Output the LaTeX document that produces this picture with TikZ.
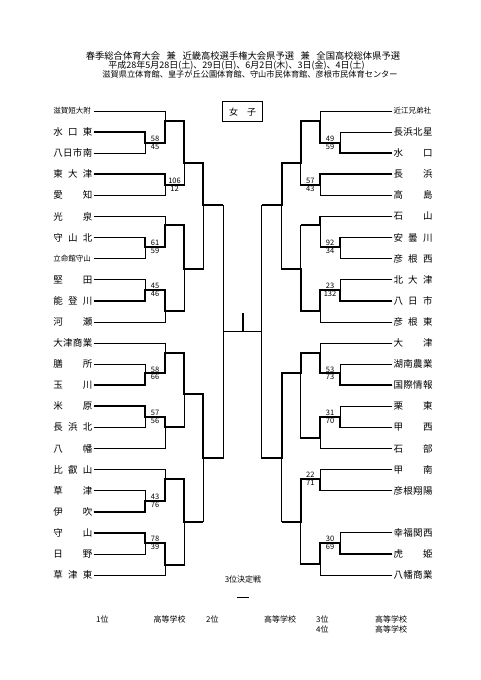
\documentclass[tikz,border=0pt]{standalone}
\usepackage{fontspec}
\setmainfont{Noto Sans CJK JP}

\newcommand{\tmname}[1]{\makebox[39pt][s]{#1}}
\newcommand{\tmsmall}[1]{\makebox[39pt][l]{\fontsize{7.5}{8}\selectfont #1}}

\begin{document}
\begin{tikzpicture}[x=1pt,y=-1pt,node distance=21.09pt,
  team/.style={inner sep=1pt,font=\fontsize{9.5}{10}\selectfont},
  score/.style={inner sep=0.8pt,font=\fontsize{7.5}{8}\selectfont},
  note/.style={inner sep=0pt,font=\fontsize{8}{9}\selectfont},
  thinline/.style={line width=0.7pt},
  winline/.style={line width=1.7pt}]

  \useasboundingbox (0,0) rectangle (481,680);

  % heading
  \node[inner sep=0pt,font=\fontsize{9.3}{10}\selectfont] (title) at (243,55.7)
    {春季総合体育大会\hspace{0.7em}兼\hspace{0.7em}近畿高校選手権大会県予選\hspace{0.7em}兼\hspace{0.7em}全国高校総体県予選};
  \node[inner sep=0pt,font=\fontsize{9}{10}\selectfont] (dates) at (236.5,65.7)
    {平成28年5月28日(土)、29日(日)、6月2日(木)、3日(金)、4日(土)};
  \node[inner sep=0pt,font=\fontsize{8.2}{9}\selectfont] (halls) at (250,74.7)
    {滋賀県立体育館、皇子が丘公園体育館、守山市民体育館、彦根市民体育センター};
  \node[draw,thinline,minimum width=39.6pt,minimum height=20pt,font=\fontsize{9}{10}\selectfont]
    (girls) at (242.5,111.7) {女\hspace{1em}子};

  % left teams
  \node[team] (L1)  at (72.8,111)    {\tmsmall{滋賀短大附}};
  \node[team] (L2)  [below of=L1]  {\tmname{水\hfill 口\hfill 東}};
  \node[team] (L3)  [below of=L2]  {\tmname{八\hfill 日\hfill 市\hfill 南}};
  \node[team] (L4)  [below of=L3]  {\tmname{東\hfill 大\hfill 津}};
  \node[team] (L5)  [below of=L4]  {\tmname{愛\hfill 知}};
  \node[team] (L6)  [below of=L5]  {\tmname{光\hfill 泉}};
  \node[team] (L7)  [below of=L6]  {\tmname{守\hfill 山\hfill 北}};
  \node[team] (L8)  [below of=L7]  {\tmsmall{立命館守山}};
  \node[team] (L9)  [below of=L8]  {\tmname{堅\hfill 田}};
  \node[team] (L10) [below of=L9]  {\tmname{能\hfill 登\hfill 川}};
  \node[team] (L11) [below of=L10] {\tmname{河\hfill 瀬}};
  \node[team] (L12) [below of=L11] {\tmname{大\hfill 津\hfill 商\hfill 業}};
  \node[team] (L13) [below of=L12] {\tmname{膳\hfill 所}};
  \node[team] (L14) [below of=L13] {\tmname{玉\hfill 川}};
  \node[team] (L15) [below of=L14] {\tmname{米\hfill 原}};
  \node[team] (L16) [below of=L15] {\tmname{長\hfill 浜\hfill 北}};
  \node[team] (L17) [below of=L16] {\tmname{八\hfill 幡}};
  \node[team] (L18) [below of=L17] {\tmname{比\hfill 叡\hfill 山}};
  \node[team] (L19) [below of=L18] {\tmname{草\hfill 津}};
  \node[team] (L20) [below of=L19] {\tmname{伊\hfill 吹}};
  \node[team] (L21) [below of=L20] {\tmname{守\hfill 山}};
  \node[team] (L22) [below of=L21] {\tmname{日\hfill 野}};
  \node[team] (L23) [below of=L22] {\tmname{草\hfill 津\hfill 東}};

  % right teams
  \node[team] (R1)  at (413,111)     {\tmsmall{近江兄弟社}};
  \node[team] (R2)  [below of=R1]  {\tmname{長\hfill 浜\hfill 北\hfill 星}};
  \node[team] (R3)  [below of=R2]  {\tmname{水\hfill 口}};
  \node[team] (R4)  [below of=R3]  {\tmname{長\hfill 浜}};
  \node[team] (R5)  [below of=R4]  {\tmname{高\hfill 島}};
  \node[team] (R6)  [below of=R5]  {\tmname{石\hfill 山}};
  \node[team] (R7)  [below of=R6]  {\tmname{安\hfill 曇\hfill 川}};
  \node[team] (R8)  [below of=R7]  {\tmname{彦\hfill 根\hfill 西}};
  \node[team] (R9)  [below of=R8]  {\tmname{北\hfill 大\hfill 津}};
  \node[team] (R10) [below of=R9]  {\tmname{八\hfill 日\hfill 市}};
  \node[team] (R11) [below of=R10] {\tmname{彦\hfill 根\hfill 東}};
  \node[team] (R12) [below of=R11] {\tmname{大\hfill 津}};
  \node[team] (R13) [below of=R12] {\tmname{湖\hfill 南\hfill 農\hfill 業}};
  \node[team] (R14) [below of=R13] {\tmname{国\hfill 際\hfill 情\hfill 報}};
  \node[team] (R15) [below of=R14] {\tmname{栗\hfill 東}};
  \node[team] (R16) [below of=R15] {\tmname{甲\hfill 西}};
  \node[team] (R17) [below of=R16] {\tmname{石\hfill 部}};
  \node[team] (R18) [below of=R17] {\tmname{甲\hfill 南}};
  \node[team] (R19) [below of=R18] {\tmname{彦\hfill 根\hfill 翔\hfill 陽}};
  \node[team] (R21) [below of=R19,node distance=42.18pt] {\tmname{幸\hfill 福\hfill 関\hfill 西}};
  \node[team] (R22) [below of=R21] {\tmname{虎\hfill 姫}};
  \node[team] (R23) [below of=R22] {\tmname{八\hfill 幡\hfill 商\hfill 業}};

  % left junctions
  \coordinate (a1) at (145,142.7);
  \coordinate (b1) at (165,121);
  \coordinate (b2) at (165,185);
  \coordinate (c1) at (184,163.3);
  \coordinate (a2) at (145,246.7);
  \coordinate (b3) at (165,225);
  \coordinate (a3) at (145,290);
  \coordinate (b4) at (165,311);
  \coordinate (c2) at (184,269.3);
  \coordinate (d1) at (203.3,205);
  \coordinate (a4) at (145,373.3);
  \coordinate (b5) at (165,352.7);
  \coordinate (a5) at (145,416.7);
  \coordinate (b6) at (165,427.3);
  \coordinate (c3) at (184,394);
  \coordinate (a6) at (145,500.7);
  \coordinate (b7) at (165,479.3);
  \coordinate (a7) at (145,542.7);
  \coordinate (b8) at (165,565);
  \coordinate (c4) at (184,521.7);
  \coordinate (d2) at (203.3,458.3);
  \coordinate (f1) at (223.3,331.7);

  % right junctions
  \coordinate (ra1) at (340,142.7);
  \coordinate (rb1) at (320,121);
  \coordinate (rb2) at (320,185);
  \coordinate (rc1) at (300.7,163.3);
  \coordinate (ra2) at (340,246.7);
  \coordinate (rb3) at (320,225);
  \coordinate (ra3) at (340,290);
  \coordinate (rb4) at (320,311);
  \coordinate (rc2) at (300.7,269.3);
  \coordinate (rd1) at (281.7,205);
  \coordinate (ra4) at (340,373.3);
  \coordinate (rb5) at (320,352.7);
  \coordinate (ra5) at (340,416.7);
  \coordinate (rb6) at (320,438.3);
  \coordinate (rc3) at (300.7,373.3);
  \coordinate (rb7) at (320,479);
  \coordinate (ra6) at (340,542.7);
  \coordinate (rb8) at (320,564.3);
  \coordinate (rc4) at (300.7,521.7);
  \coordinate (rd2) at (281.7,458.3);
  \coordinate (rf1) at (261.7,331.7);

  \coordinate (mid) at (242.7,331.7);
  \coordinate (top) at (242.7,312.7);

  % left bracket
  \draw[thinline]
    (L1.east) -| (b1)
    (L2.east) -| (a1)
    (L3.east) -| (a1)
    (a1) -| node[score,pos=0.25,above] {58} node[score,pos=0.25,below] {45} (b1)
    (L4.east) -| (b2)
    (L5.east) -| (b2)
    (b1) -| (c1)
    (b2) -| node[score,pos=0.25,above] {106} node[score,pos=0.25,below] {12} (c1)
    (L6.east) -| (b3)
    (L7.east) -| (a2)
    (L8.east) -| (a2)
    (a2) -| node[score,pos=0.25,above] {61} node[score,pos=0.25,below] {59} (b3)
    (L9.east) -| (a3)
    (L10.east) -| (a3)
    (a3) -| node[score,pos=0.25,above] {45} node[score,pos=0.25,below] {46} (b4)
    (L11.east) -| (b4)
    (b3) -| (c2)
    (b4) -| (c2)
    (c1) -| (d1)
    (c2) -| (d1)
    (L12.east) -| (b5)
    (L13.east) -| (a4)
    (L14.east) -| (a4)
    (a4) -| node[score,pos=0.25,above] {58} node[score,pos=0.25,below] {66} (b5)
    (L15.east) -| (a5)
    (L16.east) -| (a5)
    (a5) -| node[score,pos=0.25,above] {57} node[score,pos=0.25,below] {56} (b6)
    (L17.east) -| (b6)
    (b5) -| (c3)
    (b6) -| (c3)
    (L18.east) -| (b7)
    (L19.east) -| (a6)
    (L20.east) -| (a6)
    (a6) -| node[score,pos=0.25,above] {43} node[score,pos=0.25,below] {76} (b7)
    (L21.east) -| (a7)
    (L22.east) -| (a7)
    (a7) -| node[score,pos=0.25,above] {78} node[score,pos=0.25,below] {39} (b8)
    (L23.east) -| (b8)
    (b7) -| (c4)
    (b8) -| (c4)
    (c3) -| (d2)
    (c4) -| (d2)
    (d1) -| (f1)
    (d2) -| (f1);

  % right bracket
  \draw[thinline]
    (R1.west) -| (rb1)
    (R2.west) -| (ra1)
    (R3.west) -| (ra1)
    (ra1) -| node[score,pos=0.25,above] {49} node[score,pos=0.25,below] {59} (rb1)
    (R4.west) -| (rb2)
    (R5.west) -| (rb2)
    (rb1) -| (rc1)
    (rb2) -| node[score,pos=0.25,above] {57} node[score,pos=0.25,below] {43} (rc1)
    (R6.west) -| (rb3)
    (R7.west) -| (ra2)
    (R8.west) -| (ra2)
    (ra2) -| node[score,pos=0.25,above] {92} node[score,pos=0.25,below] {34} (rb3)
    (R9.west) -| (ra3)
    (R10.west) -| (ra3)
    (ra3) -| node[score,pos=0.25,above] {23} node[score,pos=0.25,below] {132} (rb4)
    (R11.west) -| (rb4)
    (rb3) -| (rc2)
    (rb4) -| (rc2)
    (rc1) -| (rd1)
    (rc2) -| (rd1)
    (R12.west) -| (rb5)
    (R13.west) -| (ra4)
    (R14.west) -| (ra4)
    (ra4) -| node[score,pos=0.25,above] {53} node[score,pos=0.25,below] {73} (rb5)
    (R15.west) -| (ra5)
    (R16.west) -| (ra5)
    (ra5) -| node[score,pos=0.25,above] {31} node[score,pos=0.25,below] {70} (rb6)
    (R17.west) -| (rb6)
    (rb5) -| (rc3)
    (rb6) -| (rc3)
    (R18.west) -| (rb7)
    (R19.west) -| (rb7)
    (rb7) -| node[score,pos=0.25,above] {22} node[score,pos=0.25,below] {71} (rc4)
    (R21.west) -| (ra6)
    (R22.west) -| (ra6)
    (ra6) -| node[score,pos=0.25,above] {30} node[score,pos=0.25,below] {69} (rb8)
    (R23.west) -| (rb8)
    (rb8) -| (rc4)
    (rc3) -| (rd2)
    (rc4) -| (rd2)
    (rd1) -| (rf1)
    (rd2) -| (rf1);

  % final
  \draw[thinline] (f1) -- (rf1);
  \draw[winline] (mid) -- (top);

  % winners, left
  \draw[winline] (L2.east) -| (a1) -| (b1) -| (c1) -| (d1) -- (d1 -| f1);
  \draw[winline] (L4.east) -| (b2) -- (b2 -| c1);
  \draw[winline] (L7.east) -| (a2) -| (b3) -| (c2) -- (c2 -| d1);
  \draw[winline] (L10.east) -| (a3) -| (b4) -- (b4 -| c2);
  \draw[winline] (L14.east) -| (a4) -| (b5) -| (c3) -| (d2) -- (d2 -| f1);
  \draw[winline] (L15.east) -| (a5) -| (b6) -- (b6 -| c3);
  \draw[winline] (L20.east) -| (a6) -| (b7) -| (c4) -- (c4 -| d2);
  \draw[winline] (L21.east) -| (a7) -| (b8) -- (b8 -| c4);

  % winners, right
  \draw[winline] (R3.west) -| (ra1) -| (rb1) -| (rc1) -| (rd1) -- (rd1 -| rf1);
  \draw[winline] (R4.west) -| (rb2) -- (rb2 -| rc1);
  \draw[winline] (R6.west) -| (rb3) -- (rb3 -| rc2);
  \draw[winline] (R7.west) -| (ra2) -- (ra2 -| rb3);
  \draw[winline] (R10.west) -| (ra3) -| (rb4) -| (rc2) -- (rc2 -| rd1);
  \draw[winline] (R14.west) -| (ra4) -| (rb5) -| (rc3) -| (rd2) -- (rd2 -| rf1);
  \draw[winline] (R16.west) -| (ra5) -| (rb6) -- (rb6 -| rc3);
  \draw[winline] (R19.west) -| (rb7) -| (rc4) -- (rc4 -| rd2);
  \draw[winline] (R22.west) -| (ra6) -| (rb8) -- (rb8 -| rc4);

  % third place
  \node[note] (third) at (243,579) {3位決定戦};
  \coordinate (t3l) at (237,597);
  \coordinate (t3r) at (249,597);
  \draw[line width=1pt] (t3l) -- (t3r);

  % places
  \node[note,anchor=west] (p1) at (96,619)    {1位};
  \node[note,anchor=west] (s1) at (153.3,619) {高等学校};
  \node[note,anchor=west] (p2) at (206,619)   {2位};
  \node[note,anchor=west] (s2) at (264,619)   {高等学校};
  \node[note,anchor=west] (p3) at (316,619)   {3位};
  \node[note,anchor=west] (s3) at (375,619)   {高等学校};
  \node[note,anchor=west] (p4) at (316,629)   {4位};
  \node[note,anchor=west] (s4) at (375,629)   {高等学校};
\end{tikzpicture}
\end{document}
